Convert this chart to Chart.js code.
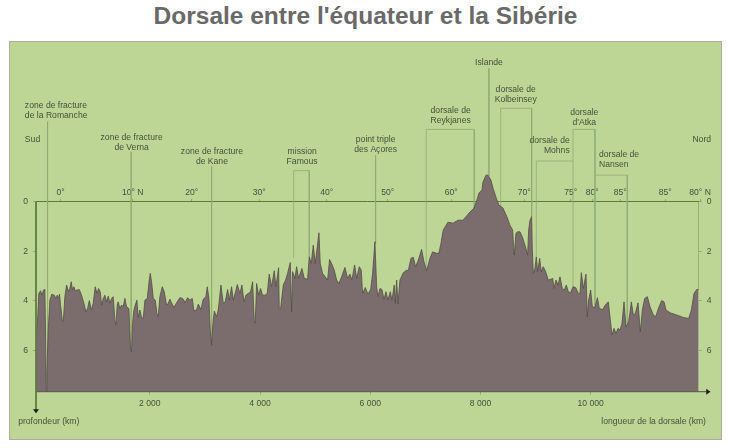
<!DOCTYPE html>
<html lang="fr">
<head>
<meta charset="utf-8">
<title>Dorsale entre l'équateur et la Sibérie</title>
<script src="https://cdn.jsdelivr.net/npm/chart.js@4/dist/chart.umd.min.js"></script>
<style>
    html, body { margin: 0; padding: 0; background: #fff; width: 729px; height: 448px; overflow: hidden; }
    h1 { position: absolute; left: 0; top: 0; width: 731px; margin: 0; text-align: center; font: bold 24.5px/32px "Liberation Sans", sans-serif; color: #696969; }
    #panel { position: absolute; left: 9px; top: 41px; width: 711px; height: 397px; background: #bdd696; border: 1px solid #a8b09c; }
    #chart { position: absolute; left: 0; top: 0; }
</style>
</head>
<body>
<h1>Dorsale entre l'équateur et la Sibérie</h1>
<div id="panel"></div>
<canvas id="chart" width="729" height="448"></canvas>
<script>
// profil de la dorsale : longueur (km) / profondeur (km)
const profileKm = [-65,-37,-13,18,42,72,96,108,120,133,157,187,223,266,296,320,344,362,381,411,429,459,490,526,550,574,598,623,647,683,719,762,804,840,871,901,943,973,1010,1040,1070,1100,1125,1155,1185,1216,1246,1276,1306,1336,1367,1385,1409,1427,1457,1488,1518,1548,1578,1621,1651,1669,1687,1712,1736,1766,1790,1820,1851,1881,1911,1954,1990,2008,2032,2063,2099,2129,2153,2183,2226,2262,2304,2335,2365,2395,2438,2486,2546,2595,2643,2686,2728,2770,2801,2849,2879,2928,2970,3018,3043,3073,3097,3121,3145,3170,3212,3242,3291,3333,3369,3412,3442,3484,3515,3557,3587,3636,
    3671,3708,3744,3786,3829,3865,3895,3913,3938,3974,4010,4046,4089,4131,4167,4210,4258,4288,4337,4349,4373,4422,4464,4500,4549,4573,4591,4633,4664,4700,4760,4803,4863,4893,4930,4966,5002,5039,5069,5093,5135,5184,5226,5262,5299,5347,5390,5432,5480,5541,5589,5632,5668,5716,5753,5801,5837,5861,5910,5958,6007,6043,6085,6116,6140,6176,6212,6249,6285,6321,6364,6394,6436,6454,6479,6503,6539,6600,6660,6690,6739,6781,6823,6872,6932,6975,7023,7084,7132,7205,7247,7283,7325,
    7410,7501,7592,7683,7809,7882,7936,7973,8027,8045,8100,8136,8190,8227,8299,8336,8408,8481,8535,8584,8596,8614,8644,8675,8717,8759,8808,8856,8874,8899,8929,8941,8959,8989,9013,9038,9074,9104,9140,9183,9231,9274,9310,9334,9370,9407,9443,9485,9522,9558,9594,9637,9679,9727,9776,9806,9830,9867,9915,9939,9963,9999,10030,10078,10121,10157,10217,10266,10320,10350,10387,10423,10459,10496,10532,10568,10605,10641,10689,10738,10774,10810,10859,10901,10937,10980,11028,11077,11137,11179,11228,11288,11331,11367,11440,11561,11682,11778,11827,11875,11924,11960];
const profileDepth = [5.32,4.78,3.70,3.59,3.77,3.56,3.54,5.18,7.67,6.80,5.18,3.97,3.73,3.77,3.90,3.77,3.90,3.73,4.17,4.78,4.84,3.83,3.36,3.63,3.50,3.23,3.56,3.43,3.59,3.56,3.54,3.77,4.10,4.44,4.31,3.99,4.37,4.10,3.43,3.70,3.50,3.63,4.17,3.90,3.77,4.04,3.81,4.10,3.90,3.83,4.78,4.98,4.17,4.04,4.31,4.17,4.24,3.90,4.24,4.31,5.99,6.06,4.91,4.37,4.17,3.97,4.67,4.37,4.67,4.71,3.97,3.90,3.16,2.89,3.23,3.90,3.97,4.51,4.64,3.83,3.43,3.63,4.17,4.10,3.93,4.08,4.27,4.08,3.87,3.90,4.06,3.87,3.97,3.90,4.40,4.37,4.13,4.35,3.93,3.83,3.43,3.90,5.18,5.79,4.91,4.41,4.64,4.37,3.36,4.10,4.04,3.54,3.97,3.43,3.97,3.63,3.34,3.70,
    3.36,4.04,3.77,3.70,3.63,3.23,4.78,4.91,3.30,3.77,3.50,3.77,3.77,3.70,2.92,3.43,2.78,3.43,2.66,4.31,4.31,3.36,3.16,2.89,2.45,4.44,2.82,3.09,2.62,3.09,2.69,3.09,3.13,2.22,2.49,1.75,2.49,1.81,1.25,2.49,2.89,3.03,3.16,2.33,2.49,2.76,3.16,3.30,3.03,2.65,3.09,2.92,3.16,2.55,3.09,2.62,2.76,3.70,3.46,3.73,3.54,2.89,1.61,3.43,3.83,3.50,3.54,3.94,3.63,3.97,3.63,3.98,3.36,4.10,3.16,4.13,3.16,2.86,2.76,2.78,2.28,2.24,2.62,2.35,1.92,2.42,2.78,2.28,2.02,2.08,2.06,1.68,1.14,
    0.82,0.86,0.74,0.74,0.41,0.25,-0.07,-0.36,-0.48,-0.80,-1.08,-1.08,-0.88,-0.56,-0.07,0.13,0.25,0.61,0.94,1.14,1.61,2.15,1.27,1.21,1.21,1.41,1.75,2.15,1.14,0.74,0.60,1.95,2.89,2.69,2.22,2.82,2.28,2.82,2.62,2.82,3.16,3.13,3.09,3.50,3.16,3.36,3.03,3.50,3.56,3.36,3.63,3.67,3.43,3.46,3.70,3.70,2.86,3.50,2.92,4.64,3.97,3.56,4.24,4.27,3.87,4.31,4.35,4.17,4.04,4.64,5.38,5.11,5.32,5.11,5.18,4.91,4.04,5.05,4.84,4.04,4.57,4.51,4.08,5.25,4.37,3.90,3.83,4.24,4.57,4.64,4.31,3.99,4.04,4.37,4.48,4.57,4.67,4.71,4.37,3.70,3.54,3.54];

// axes
const distanceTicks = [2000, 4000, 6000, 8000, 10000];
const distanceLabels = ['2 000', '4 000', '6 000', '8 000', '10 000'];
const depthTicks = [0, 2, 4, 6];
const latitudeKm = [381, 1690, 2759, 3985, 5209, 6316, 7470, 8795, 9637, 10029, 10537, 11354, 11985];
const latitudeLabels = ['0°', '10° N', '20°', '30°', '40°', '50°', '60°', '70°', '75°', '80°', '85°', '85°', '80° N'];

// traits de rappel : [km, profondeur]
const leaderPaths = [
    [[145, -3.24], [145, 6.8]],
    [[1662, -2.02], [1662, 6.0]],
    [[3121, -1.45], [3121, 5.8]],
    [[6097, -1.89], [6097, 1.7]],
    [[8154, -5.39], [8154, -1.05]],
    [[11960, 0], [11960, 3.54]],
    [[4610, 2.27], [4610, -1.26], [4893, -1.26], [4893, 2.22]],
    [[7016, 2.76], [7016, -2.93], [7888, -2.93], [7888, 0.25]],
    [[8366, 0.25], [8366, -3.78], [8929, -3.78], [8929, 0.6]],
    [[9013, 2.2], [9013, -1.65], [9679, -1.65]],
    [[9679, 3.45], [9679, -2.93], [10078, -2.93], [10078, 4.27]],
    [[10078, -1.08], [10664, -1.08], [10664, 4.9]]
];

// textes : lignes, km, profondeur de la 1re ligne, alignement
const noteLines = [['zone de fracture', 'de la Romanche'], ['Sud'], ['zone de fracture', 'de Verna'], ['zone de fracture', 'de Kane'], ['mission', 'Famous'], ['point triple', 'des Açores'], ['dorsale de', 'Reykjanes'], ['Islande'], ['dorsale de', 'Kolbeinsey'], ['dorsale', "d'Atka"], ['dorsale de', 'Mohns'], ['dorsale de', 'Nansen'], ['Nord'], ['profondeur (km)'], ['longueur de la dorsale (km)']];
const noteKm = [-267, -267, 1670, 3127, 4764, 6098, 7459, 8154, 8639, 9884, 9619, 10151, 12184, -388, 12092];
const noteDepth = [-3.88, -2.50, -2.58, -2.05, -2.05, -2.50, -3.68, -5.64, -4.52, -3.62, -2.46, -1.92, -2.50, 8.86, 8.86];
const noteAlign = ['left', 'left', 'center', 'center', 'center', 'center', 'center', 'center', 'center', 'center', 'right', 'left', 'right', 'left', 'right'];

const xStart = -65, xEnd = 11960, depthTop = -6.5, depthBase = 7.67;
const xArrowEnd = 12170, yArrowEnd = 8.5;

const textColor = '#47513a';
const axisColor = '#5d7a3d';
const leaderColor = '#8fab72';

const notesPlugin = {
    id: 'notes',
    afterDatasetsDraw(chart) {
        const { ctx, scales: { x, y } } = chart;
        ctx.save();
        ctx.font = '8.6px "Liberation Sans"';
        ctx.fillStyle = textColor;
        ctx.textBaseline = 'middle';
        noteLines.forEach((lines, i) => {
            ctx.textAlign = noteAlign[i];
            lines.forEach((line, j) => {
                ctx.fillText(line, x.getPixelForValue(noteKm[i]), y.getPixelForValue(noteDepth[i]) + j * 10);
            });
        });

        // pointes de flèche des axes
        ctx.fillStyle = '#1d1d1d';
        const ax = x.getPixelForValue(xStart), ay = y.getPixelForValue(yArrowEnd);
        ctx.beginPath();
        ctx.moveTo(ax - 3, ay - 3);
        ctx.lineTo(ax + 3, ay - 3);
        ctx.lineTo(ax, ay + 1);
        ctx.fill();
        const bx = x.getPixelForValue(xArrowEnd), by = y.getPixelForValue(depthBase);
        ctx.beginPath();
        ctx.moveTo(bx - 4, by - 3);
        ctx.lineTo(bx - 4, by + 3);
        ctx.lineTo(bx, by);
        ctx.fill();
        ctx.restore();
    }
};

const toPoints = (xs, ys) => xs.map((v, i) => ({ x: v, y: ys[i] }));
const tickFont = { family: 'Liberation Sans', size: 8.6 };

const datasets = [
    {
        data: toPoints(profileKm, profileDepth),
        showLine: true,
        pointRadius: 0,
        borderColor: '#544c45',
        borderWidth: 0.8,
        backgroundColor: '#7b6d6e',
        fill: { value: depthBase },
        order: 1
    },
    {
        data: [{ x: xStart, y: 0 }, { x: xStart, y: yArrowEnd }],
        showLine: true, pointRadius: 0, borderColor: axisColor, borderWidth: 1, clip: false, order: 0
    },
    {
        data: [{ x: xStart, y: depthBase }, { x: xArrowEnd, y: depthBase }],
        showLine: true, pointRadius: 0, borderColor: '#544f44', borderWidth: 1, clip: false, order: 0
    }
];
leaderPaths.forEach(path => {
    datasets.push({
        data: path.map(p => ({ x: p[0], y: p[1] })),
        showLine: true, pointRadius: 0, borderColor: leaderColor, borderWidth: 0.8, order: 2
    });
});

new Chart(document.getElementById('chart'), {
    type: 'scatter',
    data: { datasets },
    plugins: [notesPlugin],
    options: {
        responsive: false,
        animation: false,
        layout: { padding: { top: 41, left: 0, right: 0, bottom: 0 } },
        plugins: { legend: { display: false }, tooltip: { enabled: false } },
        scales: {
            x: {
                type: 'linear', position: 'bottom', min: xStart, max: xEnd,
                afterBuildTicks: s => { s.ticks = distanceTicks.map(v => ({ value: v })); },
                afterFit: s => { s.height = 56.3; },
                border: { display: false },
                grid: { drawOnChartArea: false, tickLength: 3, color: leaderColor },
                ticks: { callback: (v, i) => distanceLabels[i], font: tickFont, color: textColor, padding: 4, maxRotation: 0, autoSkip: false }
            },
            lat: {
                axis: 'x', type: 'linear', position: { y: 0 }, min: xStart, max: xEnd,
                afterBuildTicks: s => { s.ticks = latitudeKm.map(v => ({ value: v })); },
                border: { color: axisColor, width: 1 },
                grid: { drawOnChartArea: false, tickLength: -3, color: leaderColor },
                ticks: { callback: (v, i) => latitudeLabels[i], font: tickFont, color: textColor, padding: -11, maxRotation: 0, autoSkip: false }
            },
            y: {
                type: 'linear', position: 'left', reverse: true, min: depthTop, max: depthBase,
                afterBuildTicks: s => { s.ticks = depthTicks.map(v => ({ value: v })); },
                afterFit: s => { s.width = 36; },
                border: { display: false },
                grid: { drawOnChartArea: false, tickLength: 3, color: leaderColor },
                ticks: { font: tickFont, color: textColor, padding: 5 }
            },
            yRight: {
                type: 'linear', position: 'right', reverse: true, min: depthTop, max: depthBase,
                afterBuildTicks: s => { s.ticks = depthTicks.map(v => ({ value: v })); },
                afterFit: s => { s.width = 30.3; },
                border: { display: false },
                grid: { drawOnChartArea: false, tickLength: 3, color: leaderColor },
                ticks: { font: tickFont, color: textColor, padding: 5 }
            }
        }
    }
});
</script>
</body>
</html>
